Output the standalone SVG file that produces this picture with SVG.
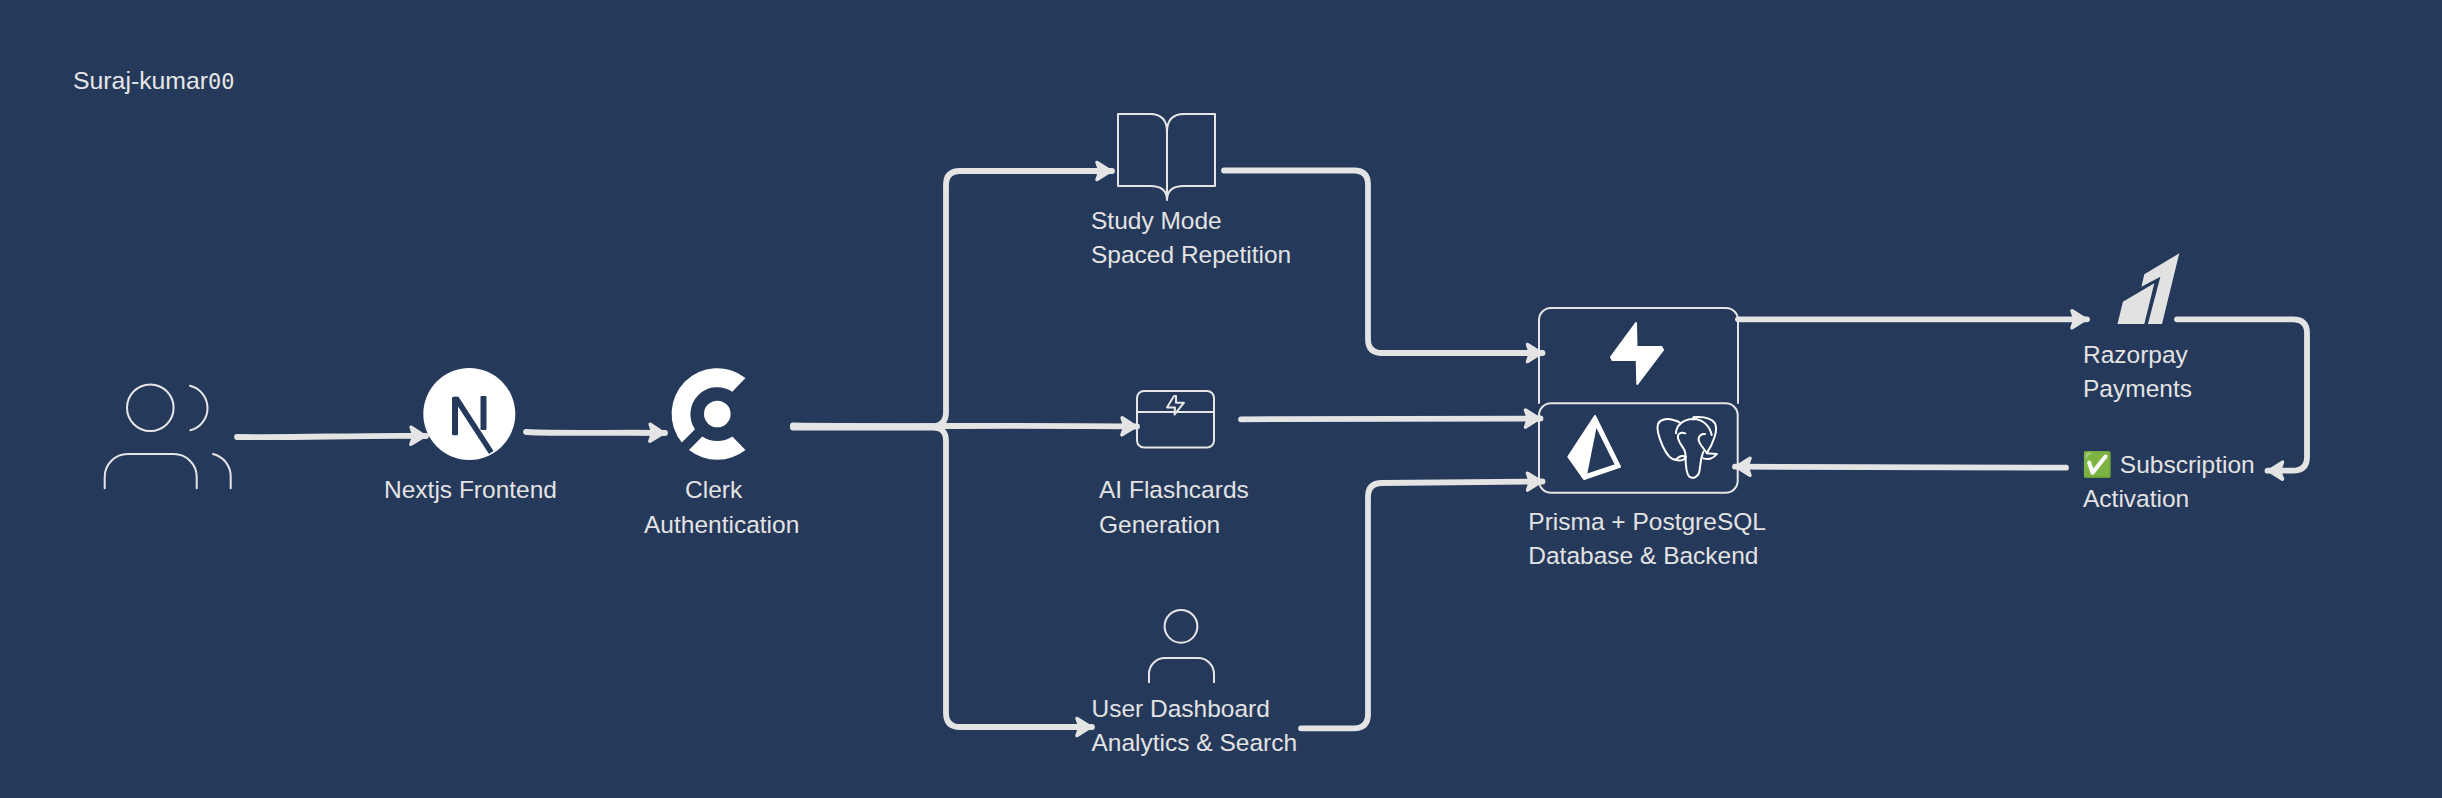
<svg xmlns="http://www.w3.org/2000/svg" width="2442" height="798" viewBox="0 0 2442 798">
<style>
.t{font-family:"Liberation Sans",Arial,sans-serif;font-size:24.5px;fill:#e3e3e3}
.m{font-family:"Liberation Sans",Arial,sans-serif;font-size:24.8px;fill:#e6e6e6}
.z{font-family:"DejaVu Sans Mono",monospace;font-size:22px}
.i{fill:none;stroke:#e6e6e6;stroke-width:2;stroke-linecap:round;stroke-linejoin:round}
.c{fill:none;stroke:#e4e4e4;stroke-width:5.800;stroke-linecap:round;stroke-linejoin:round}
.s{fill:#fff}
.d{fill:#25395b}
</style>
<defs>
<marker id="arrow" markerUnits="userSpaceOnUse" markerWidth="28" markerHeight="28" refX="21" refY="14" orient="auto">
<path d="M6,5.500L19.500,14L6,22.500L9,14Z" fill="#e4e4e4" stroke="#e4e4e4" stroke-width="3.500" stroke-linejoin="round"/>
</marker>
</defs>
<rect width="2442" height="798" fill="#25395b"/>
<g id="connectors">
<path class="c" marker-end="url(#arrow)" d="M237,437C300,438 360,435 426,436"/>
<path class="c" marker-end="url(#arrow)" d="M526,432C570,434 620,432 665,433"/>
<path class="c" marker-end="url(#arrow)" d="M793,425.500C900,427 1000,425 1137,426.500"/>
<path class="c" marker-end="url(#arrow)" d="M793,426.500H932Q946,426 946,412V185Q946,171 960,171H1112"/>
<path class="c" marker-end="url(#arrow)" d="M793,427.500H932Q946,427 946,441V713Q946,727 960,727H1092"/>
<path class="c" marker-end="url(#arrow)" d="M1224,170.500H1354Q1368,170.500 1368,184.500V339Q1368,353 1382,353H1542.500"/>
<path class="c" marker-end="url(#arrow)" d="M1241,419.300L1540.500,418.500"/>
<path class="c" marker-end="url(#arrow)" d="M1301,728.300H1354Q1368,728.300 1368,714V497Q1368,483 1382,483L1542.500,481.500"/>
<path class="c" marker-end="url(#arrow)" d="M1738,319.300H2087"/>
<path class="c" marker-end="url(#arrow)" d="M2177,319.300H2293Q2307,319.300 2307,333V457Q2307,470.700 2293,470.700H2267.500"/>
<path class="c" marker-end="url(#arrow)" d="M2066,467.700L1735,466.700"/>
</g>
<g id="title"><text class="m" x="73" y="89">Suraj-kumar<tspan class="z">00</tspan></text></g>
<g id="users">
<circle class="i" cx="150.300" cy="407.700" r="23.300"/>
<path class="i" d="M190,385.700A23,23 0 0 1 190.300,430.300"/>
<path class="i" d="M104.700,488.300V477A23,23 0 0 1 127.700,454H173.700A23,23 0 0 1 196.700,477V488.300"/>
<path class="i" d="M213,454A23,23 0 0 1 230.700,477V488.300"/>
</g>
<g id="nextjs">
<circle class="s" cx="469.300" cy="414" r="46"/>
<rect class="d" x="452" y="396.700" width="6" height="38.500" rx="1.500"/>
<rect class="d" x="480.500" y="396" width="6" height="34" rx="1"/>
<path class="d" d="M452.500,398L455,396.700H458.500L493.500,451L489,454Z"/>
<text class="t" x="384" y="498">Nextjs Frontend</text>
</g>
<g id="clerk">
<circle class="s" cx="717.300" cy="414" r="13.300"/>
<path class="s" d="M745.500,378A45.600,45.600 0 0 0 681.800,442.500L695,429.300A27,27 0 0 1 732.300,391.700Z"/>
<path class="s" d="M689,450A45.600,45.600 0 0 0 745.500,450L732.300,436.500A27,27 0 0 1 702.300,436.500Z"/>
<text class="t" x="685" y="498">Clerk</text>
<text class="t" x="644" y="533">Authentication</text>
</g>
<g id="study-mode">
<path class="i" d="M1167,132Q1167,114 1184,114H1215V186H1184Q1167,186 1167,200Q1167,186 1150,186H1118V114H1150Q1167,114 1167,132V200"/>
<text class="t" x="1091" y="229">Study Mode</text>
<text class="t" x="1091" y="263.300">Spaced Repetition</text>
</g>
<g id="ai-flashcards">
<rect class="i" x="1137" y="391" width="77" height="56.500" rx="7"/>
<path class="i" d="M1137,412H1214"/>
<path class="i" d="M1174,396L1167,407.500H1175L1174.500,414.500L1184,402.700H1176L1176,396Z"/>
<text class="t" x="1099" y="497.700">AI Flashcards</text>
<text class="t" x="1099" y="532.700">Generation</text>
</g>
<g id="user-dashboard">
<circle class="i" cx="1181" cy="626.300" r="16.400"/>
<path class="i" d="M1149,682.300V674A16,16 0 0 1 1165,658H1198A16,16 0 0 1 1214,674V682.300"/>
<text class="t" x="1091.500" y="716.700">User Dashboard</text>
<text class="t" x="1091.500" y="751">Analytics &amp; Search</text>
</g>
<g id="backend">
<path class="i" d="M1539,403V320A12,12 0 0 1 1551,308H1726A12,12 0 0 1 1738,320V403"/>
<rect class="i" x="1539" y="403.300" width="198.700" height="89.400" rx="12"/>
<path class="s" stroke="#fff" stroke-width="2" stroke-linejoin="round" d="M1636,323L1611,357L1612.500,360H1636.700L1637.300,384L1663,350L1661.500,347H1636.500Z"/>
<path class="s" fill-rule="evenodd" stroke="#fff" stroke-width="2" stroke-linejoin="round" d="M1595,416L1568.300,456.700L1584,479L1620,466.700ZM1596,425L1586,475L1616,465Z"/>
<g fill="none" stroke="#fff" stroke-width="6" stroke-linecap="round" stroke-linejoin="round" transform="translate(1650 410) scale(.3333)">
<path d="M78,150C60,150 48,130 38,108C28,85 18,60 24,42C30,28 50,24 70,30C82,33 88,36 92,40"/>
<path d="M78,70C78,45 100,28 130,27C160,27 180,50 185,75"/>
<path d="M130,22C150,20 180,20 195,40C205,60 190,100 170,130L200,132"/>
<path d="M106,70C92,65 80,70 85,88C90,105 105,115 106,130C107,155 106,190 118,200C130,208 145,200 148,185C152,165 150,150 160,125"/>
<path d="M165,72C150,70 140,85 150,100C155,110 163,118 170,128"/>
<path d="M75,148C90,155 105,150 108,140C95,135 85,140 78,150"/>
<path d="M160,145C175,150 190,145 200,132"/>
</g>
<text class="t" x="1528.300" y="530">Prisma + PostgreSQL</text>
<text class="t" x="1528.300" y="564">Database &amp; Backend</text>
</g>
<g id="razorpay">
<path fill="#e2e2e2" d="M2179.300,253.300L2144.300,274.300L2141.400,286.700L2160.400,276.700L2147.900,324H2162Z"/>
<path fill="#e2e2e2" d="M2154.300,283.300L2122.900,301.700L2117.500,324H2144.300Z"/>
<text class="t" x="2083" y="363.300">Razorpay</text>
<text class="t" x="2083" y="396.700">Payments</text>
</g>
<g id="subscription">
<text class="t" x="2082" y="473.300">✅ Subscription</text>
<text class="t" x="2083" y="506.700">Activation</text>
</g>
</svg>
